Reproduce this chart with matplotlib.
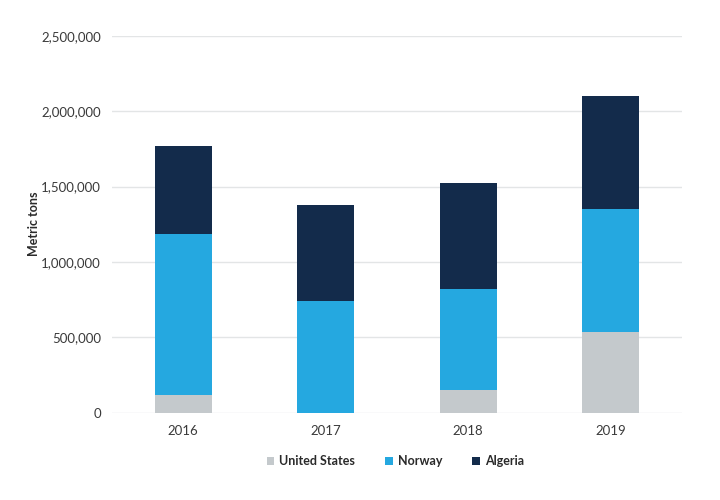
import matplotlib
matplotlib.use("Agg")
import matplotlib.pyplot as plt
from matplotlib.ticker import FuncFormatter

years = ["2016", "2017", "2018", "2019"]
united_states = [116000, 0, 147000, 535000]
norway = [1069000, 742000, 675000, 814000]
algeria = [585000, 634000, 700000, 752000]
series_names = ["United States", "Norway", "Algeria"]
colors = ["#c4c9cc", "#25a8e0", "#132b4b"]

plt.rcParams['font.family'] = ['Lato', 'DejaVu Sans']

fig = plt.figure(figsize=(7.2, 5.0), dpi=100)
ax = fig.add_axes([0.1556, 0.175, 0.947 - 0.1556, 0.928 - 0.175])

x = list(range(len(years)))
bottom2 = [a + b for a, b in zip(united_states, norway)]
ax.bar(x, united_states, width=0.4, color=colors[0], label=series_names[0], zorder=3)
ax.bar(x, norway, width=0.4, bottom=united_states, color=colors[1], label=series_names[1], zorder=3)
ax.bar(x, algeria, width=0.4, bottom=bottom2, color=colors[2], label=series_names[2], zorder=3)

ax.set_xlim(-0.5, 3.5)
ax.set_ylim(0, 2500000)
ax.set_yticks([0, 500000, 1000000, 1500000, 2000000, 2500000])
ax.yaxis.set_major_formatter(FuncFormatter(lambda v, p: f"{int(v):,}"))
ax.set_xticks(x)
ax.set_xticklabels(years)

ax.grid(axis='y', color='#e3e5e6', linewidth=1, zorder=0)
for s in ax.spines.values():
    s.set_visible(False)
ax.tick_params(axis='both', length=0, labelsize=9.5, colors='#3a3a3a')
ax.tick_params(axis='y', pad=8)
ax.tick_params(axis='x', pad=9)

ax.set_ylabel("Metric tons", fontsize=9, fontweight='bold', color='#2a2a2a', labelpad=1)

leg = fig.legend(loc='center', bbox_to_anchor=(0.549, 0.078), ncol=3, frameon=False,
                 handlelength=0.6, handleheight=0.6, handletextpad=0.4,
                 columnspacing=2.4, prop={'weight': 'bold', 'size': 9})
for t in leg.get_texts():
    t.set_color('#2a2a2a')

fig.savefig("out.png", dpi=100)
